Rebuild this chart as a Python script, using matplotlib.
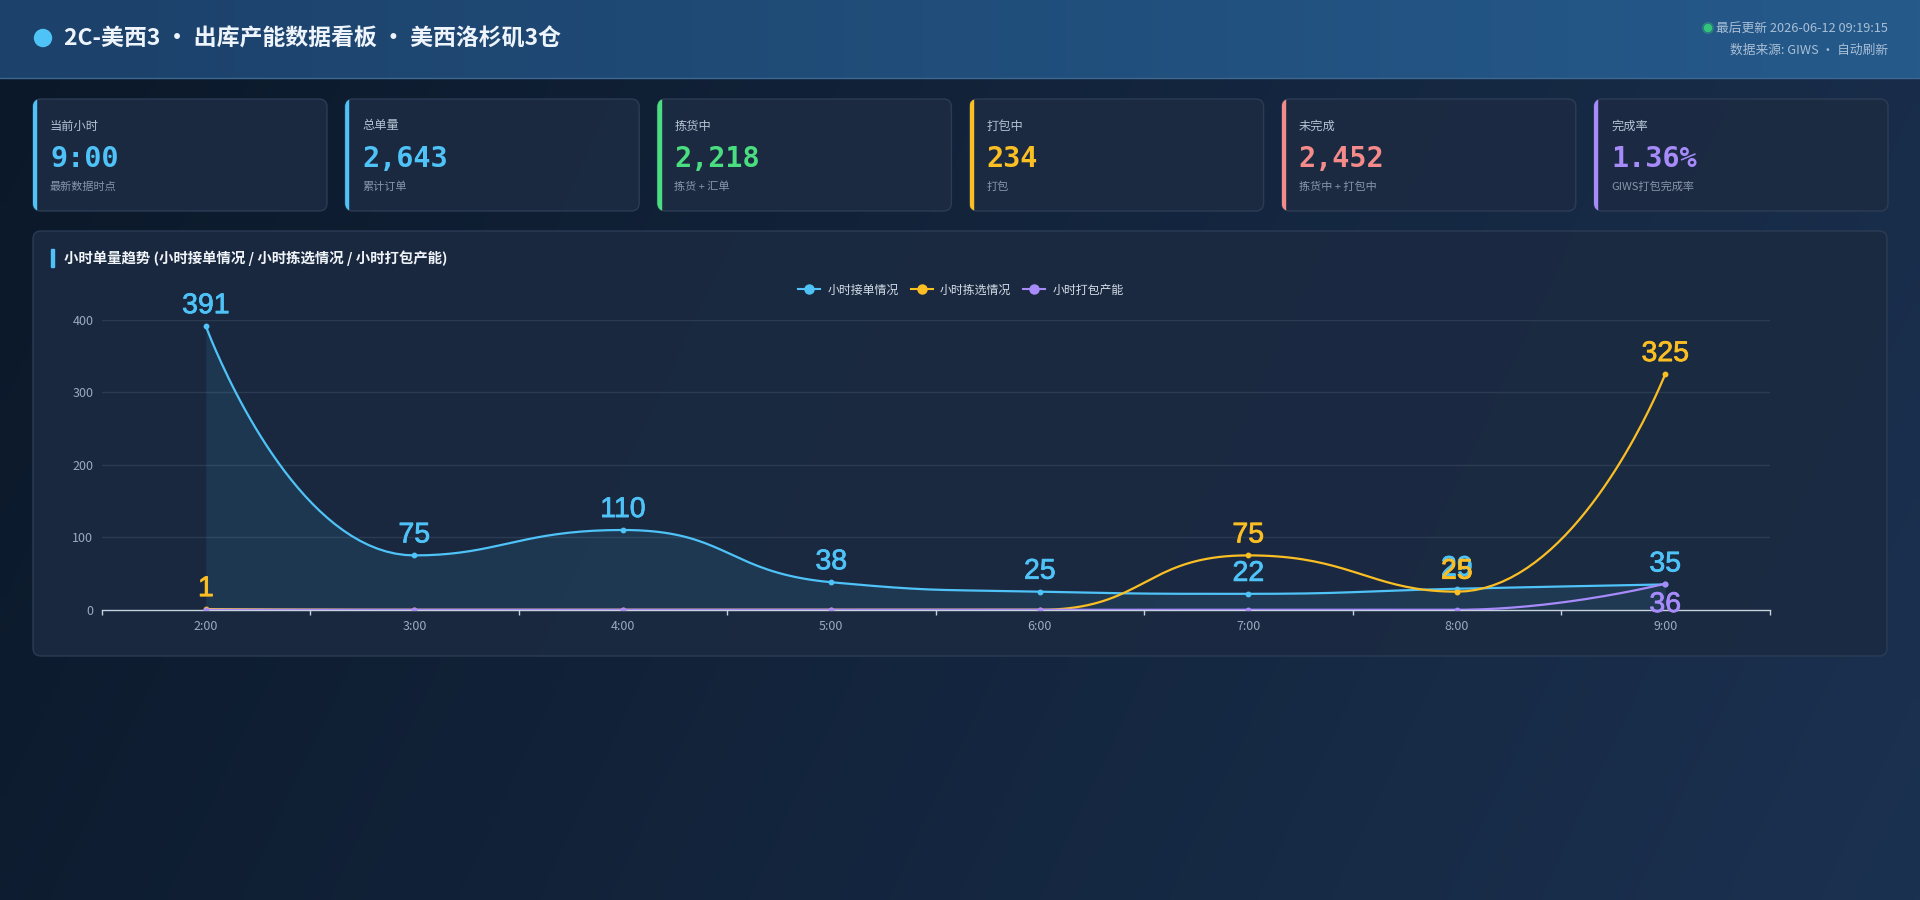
import numpy as np
import matplotlib
matplotlib.use("Agg")
import matplotlib.pyplot as plt
import matplotlib.patheffects as pe
from matplotlib.patches import FancyBboxPatch, Rectangle, Circle
from matplotlib.lines import Line2D
from matplotlib.colors import to_rgb

plt.rcParams['font.family'] = ['Noto Sans CJK SC', 'DejaVu Sans']

# ---------------- data ----------------
hours = ["2:00", "3:00", "4:00", "5:00", "6:00", "7:00", "8:00", "9:00"]
orders_in = [391, 75, 110, 38, 25, 22, 29, 35]      # 小时接单情况
picked = [1, 0, 0, 0, 0, 75, 25, 325]               # 小时拣选情况
packed = [0, 0, 0, 0, 0, 0, 0, 36]                  # 小时打包产能
series_names = ["小时接单情况", "小时拣选情况", "小时打包产能"]

card_titles = ["当前小时", "总单量", "拣货中", "打包中", "未完成", "完成率"]
card_values = ["9:00", "2,643", "2,218", "234", "2,452", "1.36%"]
card_subs = ["最新数据时点", "累计订单", "拣货 + 汇单", "打包", "拣货中 + 打包中", "GIWS打包完成率"]

title_text = "2C-美西3 · 出库产能数据看板 · 美西洛杉矶3仓"
update_text = "最后更新 2026-06-12 09:19:15"
source_text = "数据来源: GIWS · 自动刷新"
panel_title = "小时单量趋势 (小时接单情况 / 小时拣选情况 / 小时打包产能)"
y_ticks = [0, 100, 200, 300, 400]

# ---------------- style ----------------
BLUE = "#4fc3f7"
YELLOW = "#fbbf24"
PURPLE = "#a78bfa"
GREEN = "#4ade80"
RED = "#f58a8a"
card_colors = [BLUE, BLUE, GREEN, YELLOW, RED, PURPLE]
series_colors = [BLUE, YELLOW, PURPLE]

W, H = 1920, 900
fig = plt.figure(figsize=(19.2, 9.0), dpi=100)

# background overlay axes in pixel coordinates
bg = fig.add_axes([0, 0, 1, 1], zorder=0)
bg.set_xlim(0, W)
bg.set_ylim(H, 0)
bg.axis("off")

# page gradient
gx = np.linspace(0, 1, 192)
gy = np.linspace(0, 1, 90)
GX, GY = np.meshgrid(gx, gy)
t = np.clip(0.82 * GX + 0.18 * GY, 0, 1)
c0 = np.array(to_rgb("#0b1829"))
c1 = np.array(to_rgb("#1b3150"))
img = c0[None, None, :] * (1 - t[..., None]) + c1[None, None, :] * t[..., None]
bg.imshow(img, extent=(0, W, H, 0), aspect="auto", interpolation="bilinear", zorder=0)

# header gradient
hx = np.linspace(0, 1, 192)[None, :].repeat(8, axis=0)
h0 = np.array(to_rgb("#1c416a"))
h1 = np.array(to_rgb("#255a8b"))
himg = h0[None, None, :] * (1 - hx[..., None]) + h1[None, None, :] * hx[..., None]
bg.imshow(himg, extent=(0, W, 78, 0), aspect="auto", interpolation="bilinear", zorder=1)
bg.plot([0, W], [78, 78], color="#3d6892", lw=1.0, zorder=2)
bg.set_xlim(0, W)
bg.set_ylim(H, 0)

# title
bg.add_patch(Circle((43, 38), 8.5, color=BLUE, zorder=3))
bg.text(64, 39, title_text, fontsize=16.5, fontweight="bold", color="#eef4fb",
        va="center", ha="left", zorder=3)
bg.add_patch(Circle((1708, 28), 5.5, color="#34c57a", alpha=0.25, zorder=3))
bg.add_patch(Circle((1708, 28), 3.5, color="#34c57a", zorder=3))
bg.text(1888, 28, update_text, fontsize=9.2, color="#a9bfd6", ha="right", va="center", zorder=3)
bg.text(1888, 50, source_text, fontsize=9.2, color="#a9bfd6", ha="right", va="center", zorder=3)

# cards
card_w, card_h = 294, 112
for i in range(6):
    x0 = 33 + i * 312.2
    y0 = 99
    card = FancyBboxPatch((x0, y0), card_w, card_h, boxstyle="round,pad=0,rounding_size=8",
                          facecolor="#1c2b42", edgecolor="#2d3e57", lw=1.0, alpha=0.92, zorder=3)
    bg.add_patch(card)
    bar = Rectangle((x0, y0), 3.2, card_h, color=card_colors[i], zorder=4)
    bg.add_patch(bar)
    bar.set_clip_path(card)
    bg.text(x0 + 17, 126, card_titles[i], fontsize=8.8, color="#b4c2d3", va="center", ha="left", zorder=5)
    bg.text(x0 + 17, 159, card_values[i], fontsize=20.5, fontweight="bold", color=card_colors[i],
            family="DejaVu Sans Mono", va="center", ha="left", zorder=5)
    bg.text(x0 + 17, 187, card_subs[i], fontsize=8.0, color="#8796aa", va="center", ha="left", zorder=5)

# chart panel
panel = FancyBboxPatch((33, 231), 1854, 425, boxstyle="round,pad=0,rounding_size=8",
                       facecolor="#1b2a41", edgecolor="#2d3e57", lw=1.0, alpha=0.9, zorder=3)
bg.add_patch(panel)
bg.add_patch(Rectangle((51, 249), 3, 18, color=BLUE, zorder=4))
bg.text(64, 258, panel_title, fontsize=10.4, fontweight="bold", color="#f0f4f8",
        va="center", ha="left", zorder=5)

# ---------------- chart ----------------
ax_left, ax_right = 101.6, 1769.5
ax_bottom, ax_top = 609.8, 319.6
ax = fig.add_axes([ax_left / W, 1 - ax_bottom / H, (ax_right - ax_left) / W, (ax_bottom - ax_top) / H],
                  zorder=2)
ax.set_facecolor("none")
n = len(hours)
xs = np.arange(n)
ax.set_xlim(-0.5, n - 0.5)
ax.set_ylim(0, 400)

sx = (ax_right - ax_left) / n
sy = (ax_bottom - ax_top) / 400.0


def echarts_smooth(xv, yv, smooth=0.5, steps=40):
    P = [(float(a) * sx, float(b) * sy) for a, b in zip(xv, yv)]
    N = len(P)
    out = [P[0]]
    cp0 = P[0]
    for i in range(1, N):
        x, y = P[i]
        px, py = P[i - 1]
        if i == N - 1:
            cp1 = (x, y)
            ncp = (x, y)
        else:
            nx, ny = P[i + 1]
            vx, vy = nx - px, ny - py
            l0 = np.hypot(x - px, y - py)
            l1 = np.hypot(nx - x, ny - y)
            r = l1 / (l0 + l1)
            ncx = x + vx * smooth * r
            ncy = y + vy * smooth * r
            ncx = max(min(ncx, max(nx, x)), min(nx, x))
            ncy = max(min(ncy, max(ny, y)), min(ny, y))
            vx, vy = ncx - x, ncy - y
            c1x = x - vx * l0 / l1
            c1y = y - vy * l0 / l1
            c1x = max(min(c1x, max(px, x)), min(px, x))
            c1y = max(min(c1y, max(py, y)), min(py, y))
            vx, vy = x - c1x, y - c1y
            ncp = (x + vx * l1 / l0, y + vy * l1 / l0)
            cp1 = (c1x, c1y)
        tt = np.linspace(0, 1, steps)[1:]
        for s in tt:
            a = (1 - s) ** 3
            b = 3 * (1 - s) ** 2 * s
            c = 3 * (1 - s) * s ** 2
            d = s ** 3
            out.append((a * px + b * cp0[0] + c * cp1[0] + d * x,
                        a * py + b * cp0[1] + c * cp1[1] + d * y))
        cp0 = ncp
    arr = np.array(out)
    return arr[:, 0] / sx, arr[:, 1] / sy


# grid
for v in y_ticks[1:]:
    ax.axhline(v, color="#2a3b52", lw=1.0, zorder=0)

all_series = [orders_in, picked, packed]
for k, (vals, col) in enumerate(zip(all_series, series_colors)):
    cx, cy = echarts_smooth(xs, vals)
    if k == 0:
        ax.fill_between(cx, 0, cy, color=col, alpha=0.10, lw=0, zorder=1)
    ax.plot(cx, cy, color=col, lw=1.6, zorder=2 + k, solid_capstyle="round")
    ax.plot(xs, vals, "o", color=col, ms=3.2, zorder=2 + k)

label_font = dict(family=["Liberation Sans", "DejaVu Sans"], fontsize=20.5)
for k, (vals, col) in enumerate(zip(all_series, series_colors)):
    for xi, v in zip(xs, vals):
        if k > 0 and v == 0:
            continue
        effects = [pe.withStroke(linewidth=0.55, foreground=col)]
        if k == 2:
            ax.annotate(str(v), (xi, v), xytext=(0, -6), textcoords="offset points",
                        ha="center", va="top", color=col, annotation_clip=False, zorder=10 + k,
                        path_effects=effects, **label_font)
        else:
            ax.annotate(str(v), (xi, v), xytext=(0, 5), textcoords="offset points",
                        ha="center", va="bottom", color=col, annotation_clip=False, zorder=10 + k,
                        path_effects=effects, **label_font)

# axes styling
for s in ["top", "right", "left"]:
    ax.spines[s].set_visible(False)
ax.spines["bottom"].set_color("#c8d2de")
ax.spines["bottom"].set_linewidth(1.0)
ax.set_yticks(y_ticks)
ax.set_yticklabels([str(v) for v in y_ticks])
ax.tick_params(axis="y", length=0, pad=6, labelsize=9, labelcolor="#9aabbf")
ax.set_xticks(xs)
ax.set_xticklabels(hours)
ax.set_xticks(np.arange(-0.5, n, 1.0), minor=True)
ax.tick_params(axis="x", which="major", length=0, pad=7, labelsize=9, labelcolor="#9aabbf")
ax.tick_params(axis="x", which="minor", length=3.8, width=1.0, color="#c8d2de")
ax.grid(False)

# legend
handles = [Line2D([], [], color=c, lw=1.5, marker="o", markersize=6.5) for c in series_colors]
fig.legend(handles, series_names, loc="center", bbox_to_anchor=(961 / W, 1 - 290 / H),
           ncol=3, frameon=False, fontsize=8.6, labelcolor="#d5dee8",
           handlelength=1.85, handletextpad=0.6, columnspacing=1.0)

fig.savefig("out.png", dpi=100)
